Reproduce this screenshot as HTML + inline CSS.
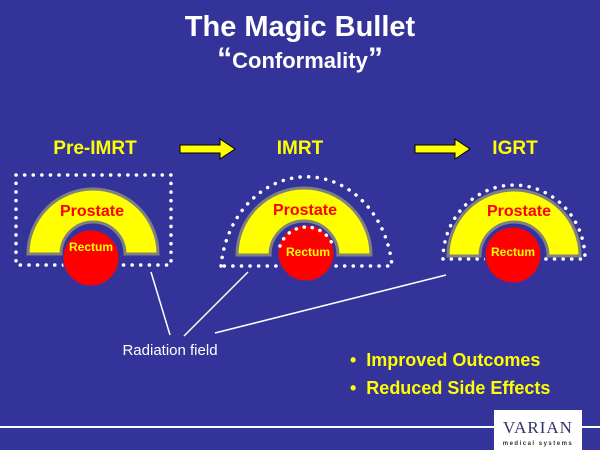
<html><body style="margin:0;background:#333399">
<svg width="600" height="450" xmlns="http://www.w3.org/2000/svg" style="display:block;font-family:'Liberation Sans',sans-serif;font-weight:bold">
<rect width="600" height="450" fill="#333399"/>
<text x="300" y="36" text-anchor="middle" fill="#fff" font-size="29">The Magic Bullet</text>
<text x="300" y="68" text-anchor="middle" fill="#fff" font-size="22"><tspan font-size="30">“</tspan>Conformality<tspan font-size="30">”</tspan></text>
<g fill="#ffff00" font-size="19" text-anchor="middle"><text x="95" y="154" >Pre-IMRT</text><text x="300" y="154">IMRT</text><text x="515" y="154">IGRT</text></g>
<g fill="#ffff00" stroke="#000" stroke-width="1"><path d="M180,145h40v-6l15,10l-15,10v-6h-40z"/><path d="M415,145h40v-6l15,10l-15,10v-6h-40z"/></g>
<g stroke="#fff" stroke-width="3.5" stroke-dasharray="0.1 8.5" stroke-linecap="round" fill="none">
<rect x="16" y="175" width="155" height="90"/>
<path d="M221,266 A86 100 0 0 1 392,266 L221,266"/>
<path d="M443,259 A71 74 0 0 1 585,259 L443,259"/>
</g>
<g fill="#ffff00" stroke="#808080" stroke-width="3">
<path d="M28,254 A65 65 0 0 1 158,254 L125,254 A32 32 0 0 0 61,254 Z"/>
<path d="M237,255 A67 67 0 0 1 371,255 L338,255 A34 34 0 0 0 270,255 Z"/>
<path d="M448,256 A66 66 0 0 1 580,256 L548,256 A34 34 0 0 0 480,256 Z"/>
</g>
<g fill="#ff0000" stroke="#3333aa" stroke-width="1">
<circle cx="91" cy="258" r="28"/><circle cx="306" cy="253" r="28"/><circle cx="513" cy="255" r="28"/>
</g>
<path d="M280,246 A28 28 0 0 1 333,246" stroke="#fff" stroke-width="3.5" stroke-dasharray="0.1 8" stroke-linecap="round" fill="none"/>
<g fill="#ff0000" font-size="16" text-anchor="middle"><text x="92" y="216">Prostate</text><text x="305" y="215">Prostate</text><text x="519" y="216">Prostate</text></g>
<g fill="#ffff00" font-size="12" text-anchor="middle"><text x="91" y="251">Rectum</text><text x="308" y="256">Rectum</text><text x="513" y="256">Rectum</text></g>
<g stroke="#fff" stroke-width="1.5"><line x1="170" y1="335" x2="151" y2="272"/><line x1="184" y1="336" x2="248" y2="272"/><line x1="215" y1="333" x2="446" y2="275"/></g>
<text x="170" y="355" fill="#fff" font-size="15" font-weight="normal" text-anchor="middle">Radiation field</text>
<g fill="#ffff00" font-size="18"><text x="350" y="366" xml:space="preserve">•  Improved Outcomes</text><text x="350" y="394" xml:space="preserve">•  Reduced Side Effects</text></g>
<rect x="0" y="426" width="600" height="2" fill="#fff"/>
<rect x="494" y="410" width="88" height="40" fill="#fff"/>
<text x="538" y="433" text-anchor="middle" fill="#333366" font-family="'Liberation Serif',serif" font-weight="normal" font-size="17" letter-spacing="1">VARIAN</text>
<text x="538" y="445" text-anchor="middle" fill="#333" font-size="6" letter-spacing="1.5">medical systems</text>
</svg>
</body></html>
